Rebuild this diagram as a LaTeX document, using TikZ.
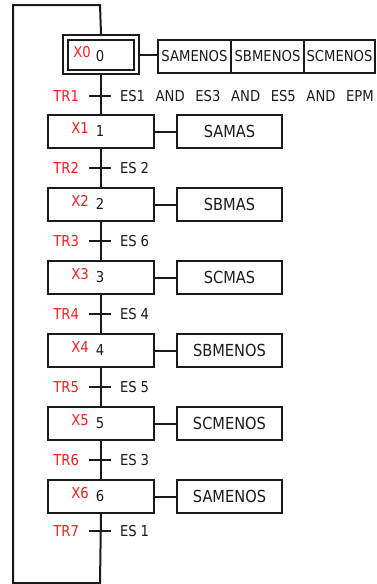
\documentclass[tikz,border=0pt]{standalone}
\usepackage{fontspec}
\setmainfont{DejaVu Sans}[FakeStretch=0.88]
\definecolor{ink}{HTML}{1A1A1A}
\definecolor{lab}{HTML}{FF1A1A}
\begin{document}
\begin{tikzpicture}[x=1pt,y=-1pt,line width=2pt,draw=ink,
  txt/.style={font=\fontsize{15}{16}\selectfont,text=ink,inner sep=0pt},
  stepbox/.style={draw=ink,rectangle,minimum width=106pt,minimum height=33pt,inner sep=0pt,anchor=north west},
  actbox/.style={txt,font=\fontsize{16.6}{18}\selectfont,draw=ink,rectangle,minimum width=105pt,minimum height=33pt,anchor=north west},
  initbox/.style={txt,draw=ink,rectangle,minimum height=33pt,anchor=north west},
  xlab/.style={txt,text=lab},
  trlab/.style={txt,text=lab,anchor=east},
  cond/.style={txt,anchor=west},
  num/.style={txt}]
\useasboundingbox (0,0) rectangle (376,584);

% initial step (double frame)
\node[draw=ink,rectangle,minimum width=76pt,minimum height=39pt,inner sep=0pt,anchor=north west] (s0) at (62,34) {};
\node[draw=ink,rectangle,minimum width=66pt,minimum height=30pt,inner sep=0pt,anchor=north west] (s0in) at (67,39) {};
\node[xlab] (x0) at (82,52.5) {X0};
\node[num] (n0) at (100,56.5) {0};

% actions of the initial step
\node[initbox,minimum width=73pt] (a0a) at (157,39) {SAMENOS};
\node[initbox,minimum width=73pt] (a0b) at (230,39) {SBMENOS};
\node[initbox,minimum width=71pt] (a0c) at (303,39) {SCMENOS};
\draw (s0.east) -- (s0.east -| a0a.west);

% steps 1..6 with their actions
\foreach \k/\act [evaluate=\k as \t using 114+73*(\k-1)] in
   {1/SAMAS,2/SBMAS,3/SCMAS,4/SBMENOS,5/SCMENOS,6/SAMENOS}{
  \node[stepbox] (s\k) at (47,\t) {};
  \node[xlab] (x\k) at (80,\t+14.3) {X\k};
  \node[num] (n\k) at (100,\t+17.4) {\k};
  \node[actbox] (a\k) at (176,\t) {\act};
  \draw (s\k.east) -- (a\k.west);
}

% main flow line between steps
\draw (s0.south) -- (s1.north);
\foreach \i/\j in {1/2,2/3,3/4,4/5,5/6}{
  \draw (s\i.south) -- (s\j.north);
}

% return loop back to the initial step
\coordinate (lb) at (100,583);
\coordinate (lt) at (100,5);
\draw (s6.south) -- (lb) -- (13,583) -- (13,5) -- (lt) -- (s0.north);

% transitions
\foreach \k/\y/\c/\sp in {1/96/{ES1 AND ES3 AND ES5 AND EPM}/10.6pt,2/168/{ES 2}/4pt,3/241/{ES 6}/4pt,
    4/314/{ES 4}/4pt,5/387/{ES 5}/4pt,6/460/{ES 3}/4pt,7/531/{ES 1}/4pt}{
  \coordinate (t\k) at (100,\y);
  \draw ([xshift=-11pt]t\k) -- ([xshift=11pt]t\k);
  \node[trlab] (tr\k) at (80,\y) {TR\k};
  \node[cond] (c\k) at (119,\y) {\spaceskip=\sp\relax\c};
}
\end{tikzpicture}
\end{document}
